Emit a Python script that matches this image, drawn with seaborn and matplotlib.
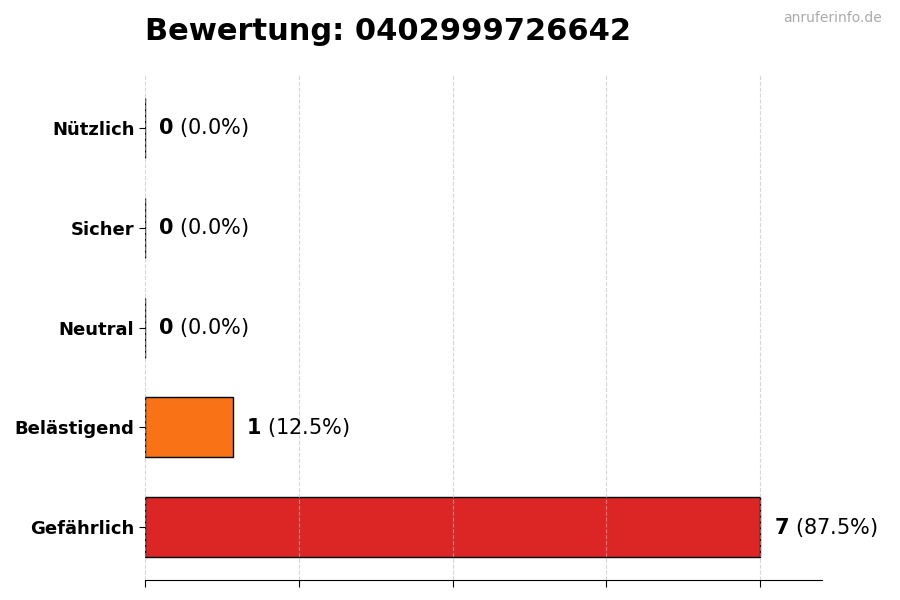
import matplotlib
matplotlib.use("Agg")
import matplotlib.pyplot as plt
import seaborn as sns
import pandas as pd
import numpy as np

sns.set_style("white")
plt.rcParams['font.family'] = ['DejaVu Sans']
plt.rcParams['text.color'] = 'black'
plt.rcParams['axes.labelcolor'] = 'black'
plt.rcParams['xtick.color'] = 'black'
plt.rcParams['ytick.color'] = 'black'

categories = ['Nützlich', 'Sicher', 'Neutral', 'Belästigend', 'Gefährlich']
counts = [0, 0, 0, 1, 7]
colors = ['#22c55e', '#3b82f6', '#9ca3af', '#f97316', '#dc2626']
title = 'Bewertung: 0402999726642'

total = sum(counts)
data = pd.DataFrame({'kategorie': categories, 'anzahl': counts})

fig, ax = plt.subplots(figsize=(9, 6), dpi=100)
sns.barplot(data=data, x='anzahl', y='kategorie', hue='kategorie', palette=colors,
            order=categories, orient='h', width=0.6, edgecolor='black', linewidth=1,
            legend=False, ax=ax, saturation=1)

xmax = max(counts) * 1.1
ax.set_xlim(0, xmax)
ax.set_ylim(len(categories) - 0.47, -0.53)
ax.set_xticks(np.linspace(0, max(counts), 5))
ax.set_xticklabels([])
# gitter leicht ueber den balken, wie im original
ax.grid(axis='x', linestyle='--', color='#bbbbbb', alpha=0.6, linewidth=0.8)
ax.set_axisbelow(False)

for i, c in enumerate(counts):
    pct = c / total * 100
    ax.text(c + xmax * 0.02, i, r'$\mathbf{%d}$ (%.1f%%)' % (c, pct),
            va='center', ha='left', fontsize=15, color='black')

ax.set_xlabel('')
ax.set_ylabel('')
for lbl in ax.get_yticklabels():
    lbl.set_fontweight('bold')
    lbl.set_fontsize(13)
    lbl.set_color('black')
ax.tick_params(axis='y', left=True, length=4, width=0.8)
ax.tick_params(axis='x', bottom=True, length=5, width=0.8)

sns.despine(ax=ax, left=True)
ax.spines['bottom'].set_color('black')

ax.set_title(title, fontsize=22, fontweight='bold', loc='left', pad=25, color='black')
fig.text(0.98, 0.97, 'anruferinfo.de', ha='right', va='center', fontsize=10, color='#aaaaaa')

plt.subplots_adjust(left=0.161, right=0.913, top=0.875, bottom=0.033)
plt.savefig('out.png', dpi=100)
